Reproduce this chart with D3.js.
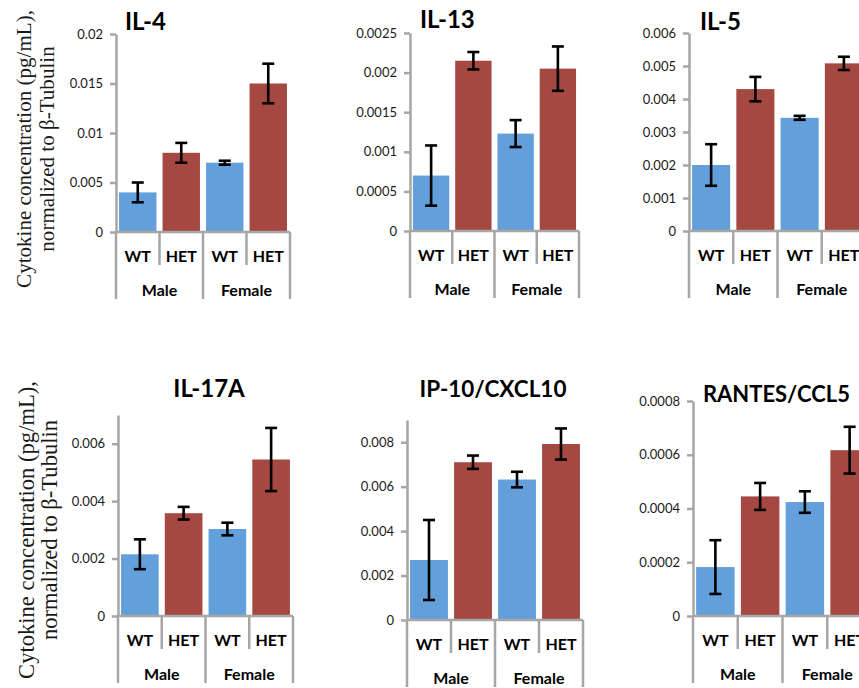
<!DOCTYPE html>
<html>
<head>
<meta charset="utf-8">
<script src="https://cdn.jsdelivr.net/npm/d3@7"></script>
<style>
  body { margin: 0; background: #fff; }
  svg { display: block; }
</style>
</head>
<body>
<script>
// categories
const genotypes = ["WT", "HET", "WT", "HET"];
const sexes = ["Male", "Female"];
const titles = ["IL-4", "IL-13", "IL-5", "IL-17A", "IP-10/CXCL10", "RANTES/CCL5"];

// means and error (+/-) per cytokine, order: male WT, male HET, female WT, female HET
const il4Mean = [0.004, 0.008, 0.007, 0.015];
const il4Err = [0.001, 0.001, 0.0002, 0.002];
const il13Mean = [0.0007, 0.00215, 0.00123, 0.00205];
const il13Err = [0.00038, 0.00011, 0.00017, 0.00028];
const il5Mean = [0.002, 0.0043, 0.00343, 0.00508];
const il5Err = [0.00063, 0.00037, 0.00006, 0.0002];
const il17Mean = [0.00215, 0.00358, 0.00303, 0.00545];
const il17Err = [0.00052, 0.00022, 0.00022, 0.0011];
const ip10Mean = [0.0027, 0.0071, 0.00632, 0.00792];
const ip10Err = [0.0018, 0.0003, 0.00035, 0.0007];
const rantesMean = [0.000182, 0.000445, 0.000424, 0.000617];
const rantesErr = [0.0001, 0.00005, 0.00004, 0.000087];

// y axis maxima and tick values
const yMax = [0.02, 0.0025, 0.006, 0.007, 0.009, 0.0008];
const il4Ticks = [0, 0.005, 0.01, 0.015, 0.02];
const il13Ticks = [0, 0.0005, 0.001, 0.0015, 0.002, 0.0025];
const il5Ticks = [0, 0.001, 0.002, 0.003, 0.004, 0.005, 0.006];
const il17Ticks = [0, 0.002, 0.004, 0.006];
const ip10Ticks = [0, 0.002, 0.004, 0.006, 0.008];
const rantesTicks = [0, 0.0002, 0.0004, 0.0006, 0.0008];

const yLabel1 = "Cytokine concentration (pg/mL),";
const yLabel2 = "normalized to β-Tubulin";

const W = 859, H = 688;
const blue = "#629fdb", red = "#a54841", grey = "#a6a6a6";
const sans = "Lato, 'Open Sans', sans-serif";

const svg = d3.select("body").append("svg")
    .attr("width", W).attr("height", H)
    .attr("viewBox", `0 0 ${W} ${H}`);

// panel layout (pixels); tw = title width seen in the reference
const panels = [
    { mean: il4Mean, err: il4Err, ticks: il4Ticks, x0: 116, x1: 290, yTop: 34, y0: 232, tx: 125, ty: 30, tw: 43, anchor: "start" },
    { mean: il13Mean, err: il13Err, ticks: il13Ticks, x0: 410, x1: 579, yTop: 33, y0: 231, tx: 420, ty: 28, tw: 57, anchor: "start" },
    { mean: il5Mean, err: il5Err, ticks: il5Ticks, x0: 689, x1: 866, yTop: 33, y0: 231, tx: 700, ty: 30, tw: 45, anchor: "start" },
    { mean: il17Mean, err: il17Err, ticks: il17Ticks, x0: 118, x1: 293, yTop: 415, y0: 616, tx: 209, ty: 397, tw: 72, anchor: "middle" },
    { mean: ip10Mean, err: ip10Err, ticks: ip10Ticks, x0: 407, x1: 583, yTop: 420, y0: 620, tx: 493, ty: 397, tw: 147, anchor: "middle" },
    { mean: rantesMean, err: rantesErr, ticks: rantesTicks, x0: 693, x1: 872, yTop: 401, y0: 616, tx: 703, ty: 402, tw: 147, anchor: "start" }
];

const fmt = d3.format("~g");

function drawPanel(p, i) {
    const g = svg.append("g");
    const x = d3.scaleBand().domain(d3.range(4)).range([p.x0, p.x1])
        .paddingInner(0.14).paddingOuter(0.07);
    const y = d3.scaleLinear().domain([0, yMax[i]]).range([p.y0, p.yTop]);

    // bars
    g.selectAll("rect.bar").data(p.mean).join("rect")
        .attr("class", "bar")
        .attr("x", (d, j) => x(j))
        .attr("width", x.bandwidth())
        .attr("y", d => y(d))
        .attr("height", d => p.y0 - y(d))
        .attr("fill", (d, j) => j % 2 ? red : blue);

    // y axis
    const ax = g.append("g")
        .attr("transform", `translate(${p.x0},0)`)
        .call(d3.axisLeft(y).tickValues(p.ticks).tickFormat(fmt).tickSize(6).tickSizeOuter(0).tickPadding(7));
    ax.select(".domain").attr("stroke", grey).attr("stroke-width", 2.5);
    ax.selectAll(".tick line").attr("stroke", grey).attr("stroke-width", 2.5);
    ax.selectAll(".tick text").attr("fill", "#1a1a1a")
        .style("font-family", sans).style("font-size", "13px");

    // category axis (Excel style multi-level)
    const step = (p.x1 - p.x0) / 4;
    g.append("line")
        .attr("x1", p.x0).attr("x2", p.x1)
        .attr("y1", p.y0).attr("y2", p.y0)
        .attr("stroke", grey).attr("stroke-width", 2.5);
    g.selectAll("line.sep").data(d3.range(5)).join("line")
        .attr("class", "sep")
        .attr("x1", k => p.x0 + k * step).attr("x2", k => p.x0 + k * step)
        .attr("y1", p.y0)
        .attr("y2", k => p.y0 + (k % 2 ? 33 : 67))
        .attr("stroke", grey).attr("stroke-width", 2.5);

    g.selectAll("text.geno").data(genotypes).join("text")
        .attr("class", "geno")
        .attr("x", (d, j) => p.x0 + (j + 0.5) * step)
        .attr("y", p.y0 + 30)
        .attr("text-anchor", "middle")
        .style("font-family", sans).style("font-weight", 700).style("font-size", "16px")
        .text(d => d);

    g.selectAll("text.sex").data(sexes).join("text")
        .attr("class", "sex")
        .attr("x", (d, j) => p.x0 + (j + 0.5) * 2 * step)
        .attr("y", p.y0 + 64)
        .attr("text-anchor", "middle")
        .style("font-family", sans).style("font-weight", 700).style("font-size", "16px")
        .text(d => d);

    // error bars
    const eb = g.selectAll("g.err").data(p.mean).join("g").attr("class", "err");
    eb.append("line")
        .attr("x1", (d, j) => x(j) + x.bandwidth() / 2)
        .attr("x2", (d, j) => x(j) + x.bandwidth() / 2)
        .attr("y1", (d, j) => y(d + p.err[j]))
        .attr("y2", (d, j) => y(d - p.err[j]));
    [1, -1].forEach(s => {
        eb.append("line")
            .attr("x1", (d, j) => x(j) + x.bandwidth() / 2 - 6)
            .attr("x2", (d, j) => x(j) + x.bandwidth() / 2 + 6)
            .attr("y1", (d, j) => y(d + s * p.err[j]))
            .attr("y2", (d, j) => y(d + s * p.err[j]));
    });
    eb.selectAll("line").attr("stroke", "#000").attr("stroke-width", 2.6);

    // title, sized to the width it has in the reference
    const t = g.append("text")
        .attr("x", p.tx).attr("y", p.ty)
        .attr("text-anchor", p.anchor)
        .style("font-family", sans).style("font-weight", 700).style("font-size", "24px")
        .text(titles[i]);
    const fs = Math.min(24, 24 * p.tw / t.node().getComputedTextLength());
    t.style("font-size", fs + "px");
}

panels.forEach(drawPanel);

// y axis titles, one per row
function yTitle(cx1, cx2, cy, len1) {
    const t1 = svg.append("text")
        .attr("transform", `translate(${cx1},${cy}) rotate(-90)`)
        .attr("text-anchor", "middle").attr("dy", "0.35em")
        .style("font-family", "'Liberation Serif', serif").style("font-size", "18px")
        .attr("fill", "#1a1a1a")
        .text(yLabel1);
    // fit the first line to the measured length in the reference
    const k = len1 / t1.node().getComputedTextLength();
    const fs = 18 * k;
    t1.style("font-size", fs + "px");
    svg.append("text")
        .attr("transform", `translate(${cx2},${cy}) rotate(-90)`)
        .attr("text-anchor", "middle").attr("dy", "0.35em")
        .style("font-family", "'Liberation Serif', serif").style("font-size", fs + "px")
        .attr("fill", "#1a1a1a")
        .text(yLabel2);
}
yTitle(24, 47, 149, 278);
yTitle(26, 49, 530, 298);
</script>
</body>
</html>
